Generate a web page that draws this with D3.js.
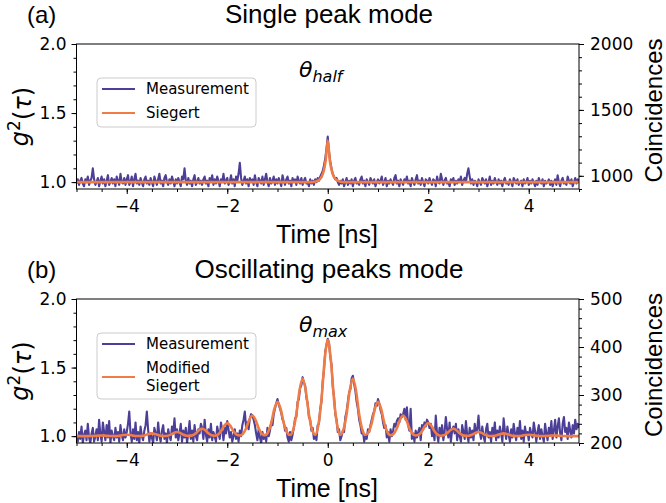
<!DOCTYPE html>
<html>
<head>
<meta charset="utf-8">
<script src="https://cdn.jsdelivr.net/npm/d3@7"></script>
<style>
body{margin:0;background:#fff;}
svg{display:block;}
</style>
</head>
<body>
<svg id="chart" width="666" height="503"></svg>
<script>
// measured g2, top panel (single peak), one value every 0.025 ns from -5 to 5
var measA = [
  0.99,1.02,0.98,1.01,1.03,0.99,0.97,1.02,1.00,1.04,0.98,1.01,1.03,1.10,1.02,0.98,1.00,1.03,0.97,1.01,
  1.04,0.99,1.02,0.97,1.01,1.05,0.98,1.00,1.03,0.99,1.02,0.97,1.04,1.01,0.98,1.06,1.00,0.99,1.03,0.98,
  1.02,1.05,0.98,1.00,1.04,0.97,1.02,1.06,0.99,1.01,0.98,1.03,1.00,0.97,1.02,1.04,0.99,1.01,0.98,1.03,
  1.00,0.97,1.04,1.01,0.98,1.02,1.06,0.99,1.01,0.97,1.03,1.05,1.00,0.98,1.02,0.99,1.04,1.01,0.97,1.02,
  0.99,1.03,1.00,0.97,1.04,1.02,1.10,1.01,0.98,1.03,0.99,1.01,0.97,1.02,1.05,0.98,1.00,1.03,0.99,1.01,
  0.98,1.02,1.04,0.99,1.01,0.97,1.03,1.00,1.05,0.98,1.02,0.99,1.04,1.01,0.97,1.02,1.00,1.06,0.99,1.01,
  1.03,0.98,1.00,1.05,0.99,1.02,0.97,1.04,1.01,1.06,1.14,1.03,0.98,1.01,1.04,0.99,1.02,0.97,1.03,1.00,
  1.02,0.98,1.05,1.00,0.97,1.03,1.01,0.99,1.04,0.98,1.02,1.06,1.00,0.97,1.03,0.99,1.01,1.04,0.98,1.02,
  0.99,1.03,1.00,0.97,1.05,1.01,0.98,1.02,1.04,0.99,1.01,0.97,1.03,1.00,1.02,0.98,1.04,1.01,0.99,1.03,
  0.98,1.01,1.03,0.99,1.00,0.97,1.02,0.99,1.01,0.98,1.02,1.00,1.03,1.01,1.04,1.06,1.08,1.12,1.17,1.24,
  1.33,1.22,1.15,1.10,1.06,1.04,1.02,1.03,1.00,0.98,1.01,0.99,1.02,0.97,1.00,1.03,0.98,1.01,0.99,1.02,
  0.97,1.01,1.03,0.99,1.00,0.98,1.02,1.04,0.99,1.01,0.97,1.02,1.00,0.98,1.03,1.01,0.99,1.02,0.97,1.00,
  1.02,0.99,1.01,1.04,0.98,1.00,1.03,0.97,1.01,0.99,1.02,1.00,0.98,1.03,1.05,0.99,1.01,0.97,1.02,1.00,
  0.98,1.02,1.00,1.04,0.99,1.01,0.97,1.03,1.00,0.98,1.02,1.05,0.99,1.01,0.98,1.03,1.00,0.97,1.02,1.01,
  0.99,1.03,1.00,0.98,1.02,1.01,0.97,1.04,1.00,0.99,1.06,1.02,0.98,1.01,1.03,0.99,1.00,0.97,1.02,1.00,
  1.03,0.98,1.01,0.99,1.02,1.00,1.04,0.98,1.01,1.03,1.00,1.06,1.10,1.04,0.99,1.02,0.98,1.01,1.00,0.97,
  1.02,1.00,0.98,1.03,1.01,0.99,1.02,0.97,1.00,1.04,0.98,1.01,0.99,1.03,1.00,0.98,1.02,0.99,1.01,0.97,
  1.01,1.03,0.99,1.00,0.98,1.02,1.00,0.97,1.03,1.01,0.99,1.02,0.98,1.00,1.01,0.97,1.02,0.99,1.00,1.03,
  0.98,1.01,0.99,1.02,1.00,0.97,1.01,0.98,1.03,1.00,0.99,1.02,0.97,1.01,0.99,1.00,1.02,0.98,1.01,0.97,
  1.00,1.02,0.98,1.05,1.00,0.97,1.01,1.03,0.99,1.00,0.98,1.04,1.01,0.99,1.02,0.97,1.00,1.03,0.99,1.02,
  1.00
];

// Siegert fit, top panel
var fitATime  = [-5, -0.32, -0.24, -0.16, -0.12, -0.08, -0.04, 0, 0.04, 0.08, 0.12, 0.16, 0.24, 0.32, 5];
var fitAValue = [1.0, 1.0, 1.005, 1.02, 1.04, 1.08, 1.16, 1.30, 1.16, 1.08, 1.04, 1.02, 1.005, 1.0, 1.0];

// measured g2, bottom panel (oscillating peaks), every 0.025 ns
var measB = [
  1.00,0.96,1.03,0.98,1.07,0.95,1.01,1.04,0.97,1.09,0.99,0.95,1.02,1.06,0.96,1.00,1.05,0.97,1.12,1.01,
  0.96,1.10,1.03,0.97,1.08,0.99,1.11,0.95,1.04,1.00,0.97,1.06,0.99,1.03,0.96,1.08,1.01,0.97,1.05,0.99,
  1.03,1.09,1.18,1.02,0.96,1.05,0.98,1.10,0.97,1.03,0.95,1.07,1.00,0.97,1.04,1.08,1.18,1.05,0.96,1.02,
  0.99,0.95,1.06,1.02,0.97,1.10,1.00,0.96,1.04,1.08,0.98,1.02,0.95,1.05,1.00,0.97,1.07,1.02,1.13,0.99,
  1.05,0.97,1.02,1.09,0.96,1.04,0.99,1.06,0.95,1.02,1.11,0.98,1.04,0.96,1.08,1.00,0.97,1.05,1.02,1.09,
  1.06,0.98,1.12,1.01,0.96,1.05,0.99,1.09,0.97,1.03,1.00,0.96,1.07,1.02,0.98,1.10,1.04,0.97,1.06,1.02,
  1.11,1.05,0.99,1.03,0.96,1.00,1.05,0.98,1.02,0.96,1.04,1.00,1.08,1.12,1.18,1.06,1.10,1.05,1.13,1.16,
  1.15,1.12,1.08,1.02,0.97,1.05,0.99,0.95,1.03,0.98,1.01,0.96,1.06,1.00,1.04,1.10,1.08,1.16,1.20,1.24,
  1.27,1.23,1.20,1.17,1.12,1.10,1.04,1.06,0.99,0.96,1.03,0.97,1.01,1.06,1.13,1.14,1.25,1.27,1.35,1.37,
  1.43,1.39,1.37,1.28,1.24,1.14,1.12,1.04,1.06,0.98,1.01,0.97,1.08,1.09,1.20,1.25,1.40,1.48,1.62,1.66,
  1.71,1.68,1.58,1.52,1.36,1.29,1.16,1.12,1.03,1.05,0.97,1.00,1.04,1.03,1.14,1.18,1.25,1.32,1.34,1.42,
  1.44,1.38,1.33,1.25,1.20,1.12,1.08,1.02,1.04,0.96,1.00,0.98,1.05,1.03,1.08,1.12,1.16,1.18,1.24,1.22,
  1.27,1.24,1.19,1.16,1.10,1.06,1.08,0.99,1.03,0.96,1.05,1.00,1.04,1.09,1.07,1.11,1.13,1.10,1.16,1.14,
  1.16,1.20,1.12,1.21,1.08,1.04,1.20,0.98,1.02,0.96,1.04,0.99,1.03,1.06,0.97,1.08,1.05,1.10,1.07,1.12,
  1.10,1.06,1.09,1.00,1.04,0.97,1.15,1.02,0.96,1.06,1.00,1.08,0.97,1.03,1.14,1.05,0.99,1.10,0.96,1.04,
  1.07,1.02,1.09,0.97,1.05,1.00,0.96,1.08,1.03,0.98,1.11,1.01,0.96,1.06,0.99,1.04,0.97,1.09,1.02,1.05,
  1.15,1.03,0.98,1.07,1.00,0.96,1.05,1.09,0.99,1.03,0.96,1.06,1.01,1.10,0.97,1.04,0.99,1.07,1.02,0.96,
  1.13,1.04,0.98,1.07,1.01,0.96,1.05,0.99,1.09,1.02,0.97,1.06,1.00,1.11,0.98,1.04,0.96,1.07,1.01,1.03,
  0.97,1.06,1.02,0.99,1.10,1.04,0.96,1.03,1.08,0.98,1.05,1.00,0.96,1.09,1.02,0.97,1.06,1.01,1.11,0.98,
  1.04,1.12,0.99,1.07,1.13,1.02,0.97,1.09,1.14,1.03,1.06,0.98,1.10,1.04,0.99,1.08,1.02,1.12,1.05,1.09,
  1.06
];

// modified Siegert fit, bottom panel, every 0.0625 ns
var fitBValue = [
  1.000,1.000,1.000,1.000,1.000,1.001,1.002,1.004,
  1.005,1.004,1.002,1.001,1.000,1.001,1.004,1.008,
  1.010,1.008,1.004,1.001,1.001,1.002,1.008,1.016,
  1.020,1.016,1.008,1.002,1.001,1.003,1.011,1.024,
  1.030,1.024,1.011,1.003,1.002,1.006,1.021,1.043,
  1.055,1.043,1.021,1.006,1.003,1.011,1.036,1.075,
  1.095,1.075,1.036,1.011,1.005,1.017,1.057,1.119,
  1.150,1.119,1.057,1.017,1.006,1.029,1.095,1.198,
  1.250,1.198,1.095,1.029,1.008,1.048,1.160,1.332,
  1.420,1.332,1.160,1.048,1.010,1.080,1.266,1.553,
  1.700,1.553,1.266,1.080,1.010,1.048,1.160,1.332,
  1.420,1.332,1.160,1.048,1.008,1.029,1.095,1.198,
  1.250,1.198,1.095,1.029,1.006,1.017,1.057,1.119,
  1.150,1.119,1.057,1.017,1.005,1.011,1.036,1.075,
  1.095,1.075,1.036,1.011,1.003,1.006,1.021,1.043,
  1.055,1.043,1.021,1.006,1.002,1.003,1.011,1.024,
  1.030,1.024,1.011,1.003,1.001,1.002,1.008,1.016,
  1.020,1.016,1.008,1.002,1.001,1.001,1.004,1.008,
  1.010,1.008,1.004,1.001,1.000,1.001,1.002,1.004,
  1.005,1.004,1.002,1.001,1.000,1.000,1.000,1.000,
  1.000
];

var xTicks = [-4, -2, 0, 2, 4];
var leftTicks = [1.0, 1.5, 2.0];
var rightTicksA = [1000, 1500, 2000];
var rightTicksB = [200, 300, 400, 500];

var blue = "#4c3f98", orange = "#f07c45";
var svg = d3.select("#chart");
svg.append("rect").attr("width", 666).attr("height", 503).attr("fill", "#fff");

var panels = [
  {
    id: "a", tag: "(a)", title: "Single peak mode",
    top: 44, bottom: 189,
    meas: measA, measStep: 0.025,
    fitT: fitATime, fitV: fitAValue,
    rightDomain: [900, 2000], rightTicks: rightTicksA, rightMinor: 100,
    sub: "half",
    legend: [{name: ["Measurement"], color: blue}, {name: ["Siegert"], color: orange}]
  },
  {
    id: "b", tag: "(b)", title: "Oscillating peaks mode",
    top: 299, bottom: 443,
    meas: measB, measStep: 0.025,
    fitT: fitBValue.map(function(d, i){ return -5 + i * 0.0625; }), fitV: fitBValue,
    rightDomain: [200, 500], rightTicks: rightTicksB, rightMinor: 20,
    sub: "max",
    legend: [{name: ["Measurement"], color: blue}, {name: ["Modified", "Siegert"], color: orange}]
  }
];

function styleAxis(g){
  g.select(".domain").remove();
  g.selectAll(".tick line").attr("stroke", "#000").attr("stroke-width", 1);
  g.selectAll(".tick text")
    .attr("fill", "#000")
    .style("font-family", "'DejaVu Sans'")
    .style("font-size", "17px");
}

function drawPanel(p){
  var left = 76.5, right = 579;
  var g = svg.append("g");

  var x = d3.scaleLinear().domain([-5, 5]).range([left, right]);
  var y = d3.scaleLinear().domain([0.95, 2.0]).range([p.bottom, p.top]);
  var yR = d3.scaleLinear().domain(p.rightDomain).range([p.bottom, p.top]);

  g.append("clipPath").attr("id", "clip" + p.id)
    .append("rect").attr("x", left).attr("y", p.top)
    .attr("width", right - left).attr("height", p.bottom - p.top);

  var plot = g.append("g").attr("clip-path", "url(#clip" + p.id + ")");

  var line = d3.line()
    .x(function(d){ return x(d[0]); })
    .y(function(d){ return y(d[1]); });

  var measPts = p.meas.map(function(v, i){ return [-5 + i * p.measStep, v]; });
  plot.append("path").datum(measPts)
    .attr("d", line)
    .attr("fill", "none").attr("stroke", blue).attr("stroke-width", 2.1)
    .attr("stroke-linejoin", "round");

  var fitPts = p.fitT.map(function(t, i){ return [t, p.fitV[i]]; });
  plot.append("path").datum(fitPts)
    .attr("d", line.curve(d3.curveMonotoneX))
    .attr("fill", "none").attr("stroke", orange).attr("stroke-width", 2.6)
    .attr("stroke-linejoin", "round");

  // axes
  var xMinor = g.append("g").attr("transform", "translate(0," + p.bottom + ")")
    .call(d3.axisBottom(x).tickValues(d3.range(-5, 5.01, 0.5)).tickSize(3).tickFormat(""));
  styleAxis(xMinor);
  var xAxis = g.append("g").attr("transform", "translate(0," + p.bottom + ")")
    .call(d3.axisBottom(x).tickValues(xTicks).tickSize(5).tickPadding(6).tickFormat(d3.format("d")));
  styleAxis(xAxis);

  var yMinor = g.append("g").attr("transform", "translate(" + left + ",0)")
    .call(d3.axisLeft(y).tickValues(d3.range(1.0, 2.01, 0.1)).tickSize(3).tickFormat(""));
  styleAxis(yMinor);
  var yAxis = g.append("g").attr("transform", "translate(" + left + ",0)")
    .call(d3.axisLeft(y).tickValues(leftTicks).tickSize(5).tickPadding(5).tickFormat(d3.format(".1f")));
  styleAxis(yAxis);

  var rMinor = g.append("g").attr("transform", "translate(" + right + ",0)")
    .call(d3.axisRight(yR).tickValues(d3.range(p.rightDomain[0], p.rightDomain[1] + 1, p.rightMinor)).tickSize(3).tickFormat(""));
  styleAxis(rMinor);
  var rAxis = g.append("g").attr("transform", "translate(" + right + ",0)")
    .call(d3.axisRight(yR).tickValues(p.rightTicks).tickSize(5).tickPadding(6).tickFormat(d3.format("d")));
  styleAxis(rAxis);

  g.append("rect")
    .attr("x", left).attr("y", p.top)
    .attr("width", right - left).attr("height", p.bottom - p.top)
    .attr("fill", "none").attr("stroke", "#000").attr("stroke-width", 1);

  // titles and labels
  var sans = "'Liberation Sans', Arial, sans-serif";
  g.append("text").attr("x", 27).attr("y", p.top - 21)
    .style("font-family", sans).style("font-size", "24px").text(p.tag);
  g.append("text").attr("x", 329).attr("y", p.top - 21).attr("text-anchor", "middle")
    .style("font-family", sans).style("font-size", "26px").text(p.title);
  g.append("text").attr("x", 327).attr("y", p.bottom + 54).attr("text-anchor", "middle")
    .style("font-family", sans).style("font-size", "25px").text("Time [ns]");
  g.append("text")
    .attr("transform", "translate(662," + ((p.top + p.bottom) / 2 - 6) + ") rotate(-90)")
    .attr("text-anchor", "middle")
    .style("font-family", sans).style("font-size", "24px").text("Coincidences");

  var gl = g.append("text")
    .attr("transform", "translate(28," + ((p.top + p.bottom) / 2) + ") rotate(-90)")
    .attr("text-anchor", "middle")
    .style("font-family", "'DejaVu Sans'").style("font-size", "24px");
  gl.append("tspan").style("font-style", "italic").text("g");
  gl.append("tspan").attr("dy", "-0.45em").style("font-size", "17px").text("2");
  gl.append("tspan").attr("dy", "0.45em").text("(");
  gl.append("tspan").style("font-style", "italic").text("τ");
  gl.append("tspan").text(")");

  var th = g.append("text").attr("x", 299).attr("y", p.top + 33)
    .style("font-family", "'DejaVu Sans'").style("font-style", "italic").style("font-size", "22px");
  th.append("tspan").text("θ");
  th.append("tspan").attr("dy", 5).style("font-size", "16px").text(p.sub);

  // legend
  var nLines = d3.sum(p.legend, function(d){ return d.name.length; });
  var legTop = p.top + 34;
  var legH = nLines === 2 ? 49 : 66;
  g.append("rect").attr("x", 97).attr("y", legTop).attr("width", 159).attr("height", legH)
    .attr("rx", 4).attr("fill", "#fff").attr("fill-opacity", 0.8)
    .attr("stroke", "#cccccc").attr("stroke-width", 1);
  var cy = legTop + 11;
  p.legend.forEach(function(item){
    var h = (item.name.length - 1) * 18;
    var mid = cy + h / 2;
    g.append("line").attr("x1", 102).attr("x2", 135).attr("y1", mid).attr("y2", mid)
      .attr("stroke", item.color).attr("stroke-width", 2.2);
    var t = g.append("text").attr("x", 146).attr("y", cy)
      .style("font-family", "'DejaVu Sans'").style("font-size", "15px");
    item.name.forEach(function(s, k){
      t.append("tspan").attr("x", 146).attr("dy", k === 0 ? "0.35em" : 18).text(s);
    });
    cy += h + 24;
  });
}

panels.forEach(drawPanel);
</script>
</body>
</html>
